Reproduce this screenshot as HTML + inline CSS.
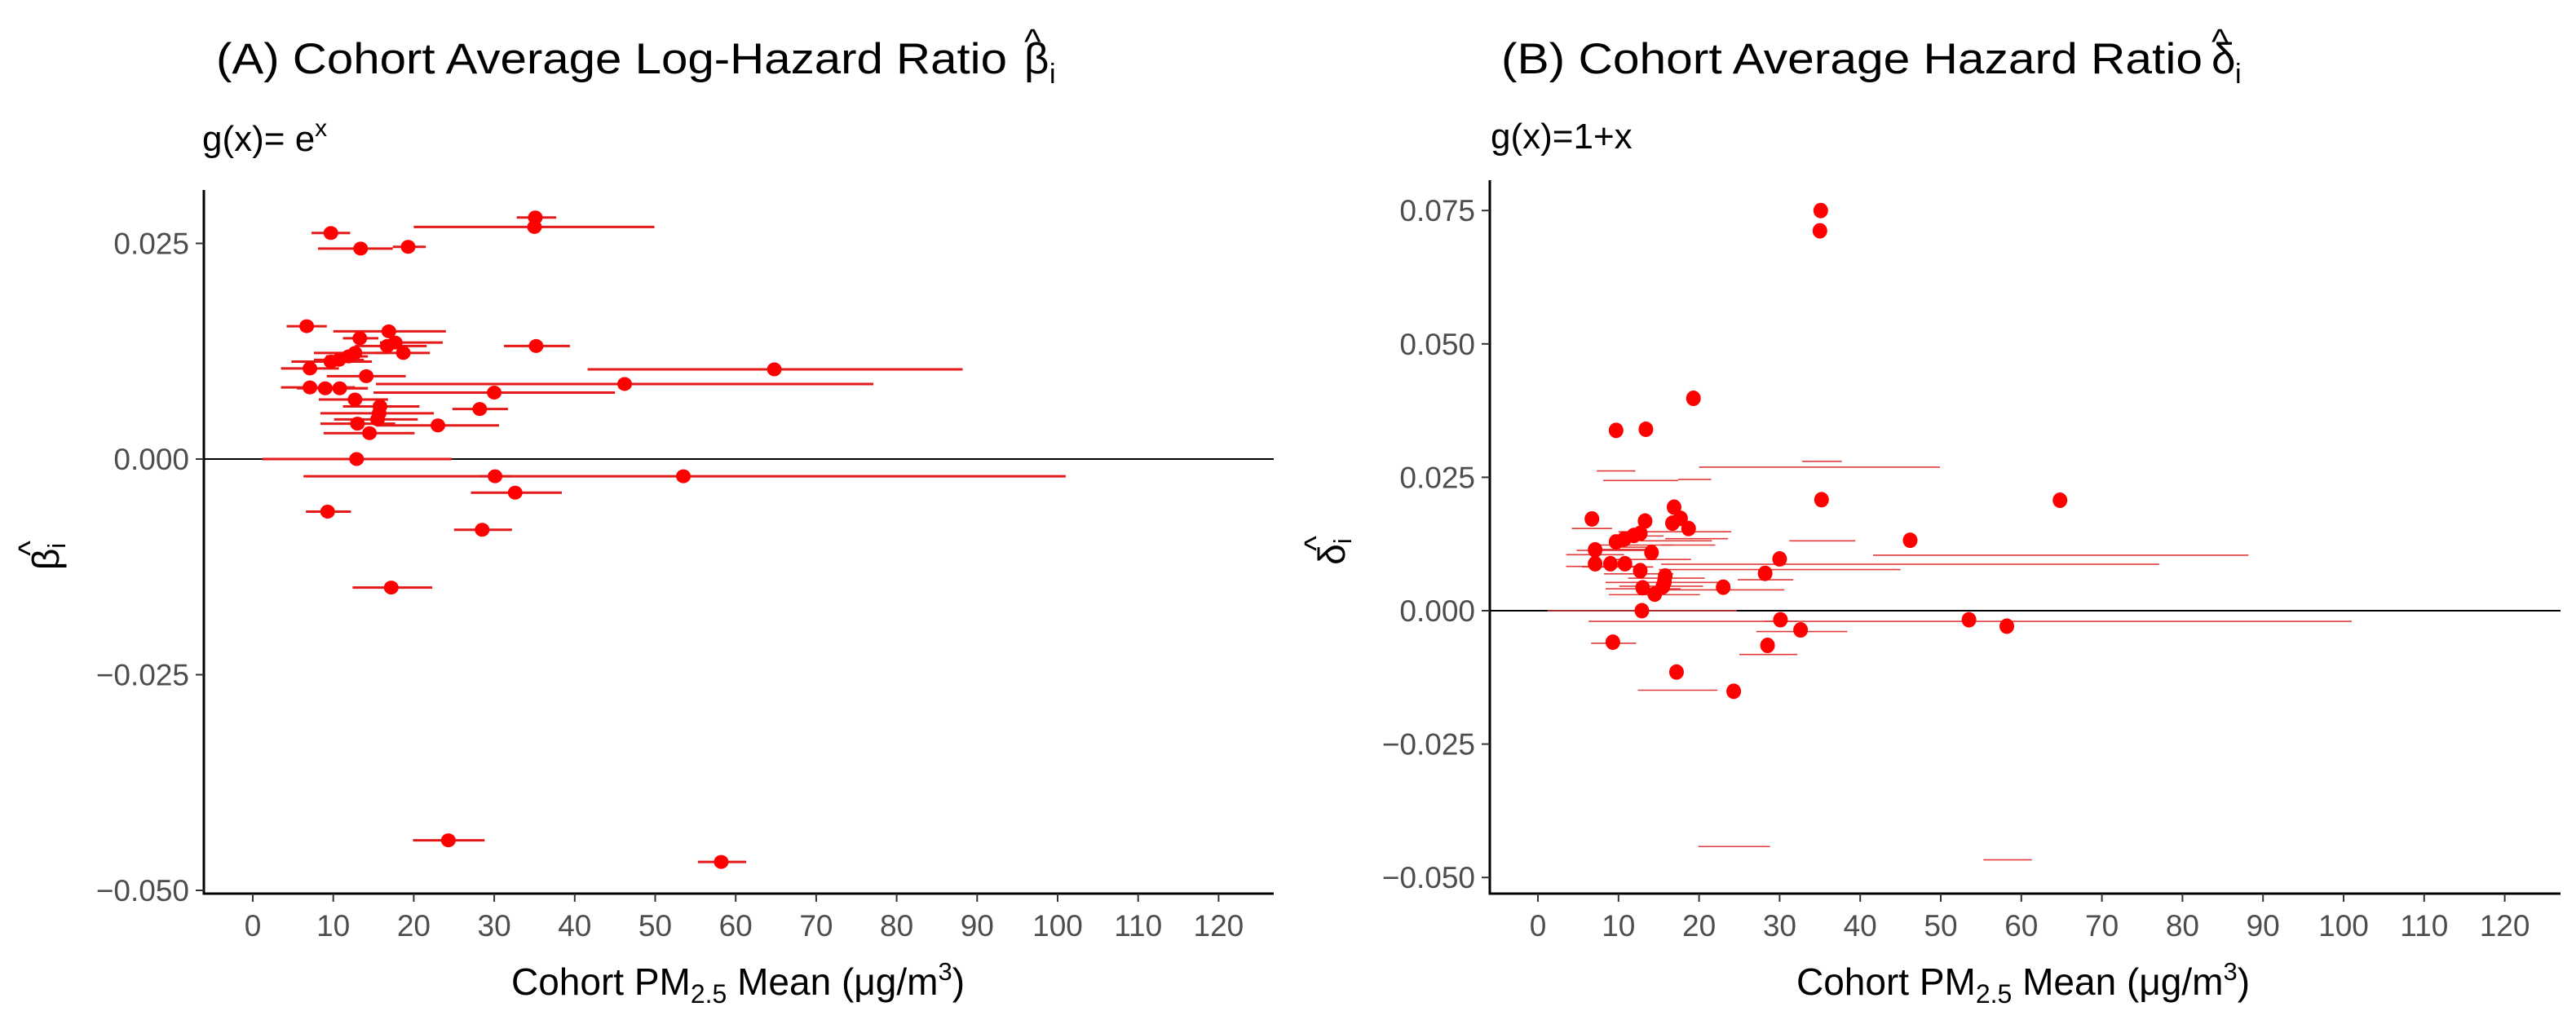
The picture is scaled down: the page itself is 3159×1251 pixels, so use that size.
<!DOCTYPE html>
<html><head><meta charset="utf-8">
<style>
html,body{margin:0;padding:0;background:#fff;}
svg{display:block;font-family:"Liberation Sans",Arial,sans-serif;}
</style></head>
<body>
<svg id="chart" width="3159" height="1251" viewBox="0 0 3159 1251" xmlns="http://www.w3.org/2000/svg">
<rect width="3159" height="1251" fill="#fff"/>
<g>
<text x="265" y="90" font-size="53" textLength="970" lengthAdjust="spacingAndGlyphs" fill="#000">(A) Cohort Average Log-Hazard Ratio</text>
<text x="1256" y="90" font-size="53" fill="#000">β</text>
<text x="1256" y="66" font-size="44" fill="#000">^</text>
<text x="1287" y="102" font-size="34" fill="#000">i</text>
</g>
<text x="248" y="185" font-size="44" fill="#000">g(x)= e<tspan dy="-18" font-size="30">x</tspan></text>
<g>
<text x="1841" y="90" font-size="53" textLength="860" lengthAdjust="spacingAndGlyphs" fill="#000">(B) Cohort Average Hazard Ratio</text>
</g>
<text x="1828" y="182" font-size="44" fill="#000">g(x)=1+x</text>
<g id="plots"></g>
</svg>
<script>
const cohortMean = [9.7,13.4,19.3,35.1,35.0,6.7,16.9,13.3,17.7,16.7,35.2,18.7,12.7,11.9,10.7,9.7,7.1,64.8,14.1,46.2,7.1,9.0,10.8,30.0,12.7,28.2,15.8,15.7,15.5,13.0,23.0,14.5,12.9,30.1,53.5,32.6,9.3,28.5,17.2,24.3,58.2];
const ciLow = [7.3,8.1,17.4,32.8,20.0,4.2,10.0,11.2,15.8,12.7,31.2,15.3,7.6,9.1,7.6,4.8,3.5,41.6,9.2,15.3,3.5,5.5,8.1,15.0,8.2,24.8,11.2,8.4,10.1,8.4,15.3,8.8,1.2,28.1,6.3,27.1,6.6,25.0,12.4,19.9,55.3];
const ciHigh = [12.1,17.4,21.5,37.7,49.9,9.2,24.0,15.6,23.6,21.6,39.4,22.0,16.8,14.3,13.8,14.8,10.7,88.2,19.0,77.1,12.7,14.3,14.3,45.0,16.8,31.7,20.7,22.5,20.5,17.7,30.6,20.1,24.7,32.2,101.0,38.4,12.2,32.2,22.3,28.8,61.3];
const betaHat = [0.0262,0.0244,0.0246,0.0280,0.0269,0.0154,0.0148,0.0140,0.0135,0.0131,0.0131,0.0123,0.0123,0.0119,0.0115,0.0113,0.0105,0.0104,0.0096,0.0087,0.0083,0.0082,0.0082,0.0077,0.0069,0.0058,0.0061,0.0053,0.0046,0.0041,0.0039,0.0030,0.0000,-0.0020,-0.0020,-0.0039,-0.0061,-0.0082,-0.0149,-0.0442,-0.0467];
const deltaHat = [0.0338,0.0340,0.0398,0.0750,0.0712,0.0172,0.0194,0.0168,0.0173,0.0164,0.0208,0.0154,0.0145,0.0141,0.0134,0.0129,0.0114,0.0207,0.0109,0.0132,0.0088,0.0088,0.0088,0.0097,0.0075,0.0070,0.0065,0.0054,0.0045,0.0043,0.0044,0.0031,0.0000,-0.0017,-0.0017,-0.0036,-0.0059,-0.0065,-0.0115,-0.0151,-0.0029];
const xTicks = [0,10,20,30,40,50,60,70,80,90,100,110,120];
const yTicksA = [0.025,0.000,-0.025,-0.050];
const yTickLabelsA = ["0.025","0.000","\u22120.025","\u22120.050"];
const yTicksB = [0.075,0.050,0.025,0.000,-0.025,-0.050];
const yTickLabelsB = ["0.075","0.050","0.025","0.000","\u22120.025","\u22120.050"];

const NS="http://www.w3.org/2000/svg";
const root=document.getElementById('plots');
function mk(tag,attrs,parent){const e=document.createElementNS(NS,tag);for(const k in attrs)e.setAttribute(k,attrs[k]);(parent||root).appendChild(e);return e;}

function panel(cfg){
  const g=mk('g',{});
  
  
  const sx=v=>cfg.x0+(v/10)*cfg.px10;
  const sy=v=>cfg.yZero-(v/0.025)*cfg.py25;
  const zl=mk('line',{x1:cfg.axisX,x2:cfg.right,y1:sy(0),y2:sy(0),stroke:'#000','stroke-width':2},g);
  
  
  for(let i=0;i<cohortMean.length;i++){
    const b=mk('line',{x1:sx(ciLow[i]),x2:sx(ciHigh[i]),y1:sy(betaHat[i]),y2:sy(betaHat[i]),stroke:cfg.barColor,'stroke-width':cfg.barW},g);
    
    
  }
  for(let i=0;i<cohortMean.length;i++){
    const c=mk('ellipse',{cx:sx(cohortMean[i]),cy:sy(cfg.vals[i]),rx:9,ry:cfg.ry,fill:'#ff0000'},g);
    
    
  }
  const ya=mk('line',{x1:cfg.axisX,x2:cfg.axisX,y1:cfg.top,y2:cfg.bottom+1.5,stroke:'#000','stroke-width':3},g);
  
  
  const xa=mk('line',{x1:cfg.axisX-1.5,x2:cfg.right,y1:cfg.bottom,y2:cfg.bottom,stroke:'#000','stroke-width':3},g);
  
  
  xTicks.forEach(t=>{
    mk('line',{x1:sx(t),x2:sx(t),y1:cfg.bottom,y2:cfg.bottom+10,stroke:'#333','stroke-width':2},g);
    const tx=mk('text',{x:sx(t),y:cfg.bottom+52,'font-size':37,'text-anchor':'middle',fill:'#4d4d4d'},g);
    tx.textContent=t;
    
    
  });
  cfg.yTicks.forEach((t,k)=>{
    mk('line',{x1:cfg.axisX-10,x2:cfg.axisX,y1:sy(t),y2:sy(t),stroke:'#333','stroke-width':2},g);
    const ty=mk('text',{x:cfg.axisX-18,y:sy(t)+13,'font-size':37,'text-anchor':'end',fill:'#4d4d4d'},g);
    ty.textContent=cfg.yLabels[k];
    
    
  });
  const xt=mk('text',{x:cfg.x0+595,y:1220,'font-size':46,'text-anchor':'middle',fill:'#000'},g);
  xt.innerHTML='Cohort PM<tspan dy="10" font-size="32">2.5</tspan><tspan dy="-10"> Mean (μg/m</tspan><tspan dy="-18" font-size="31">3</tspan><tspan dy="18">)</tspan>';
  
  
  const yt=mk('text',{transform:`translate(${cfg.axisX-178},${(cfg.top+cfg.bottom)/2+18}) rotate(-90)`,'font-size':46,'text-anchor':'middle',fill:'#000'},g);
  yt.innerHTML=cfg.sym+'<tspan dy="8" font-size="31">i</tspan>';
  
  
  const hat=mk('text',{transform:`translate(${cfg.axisX-200},${(cfg.top+cfg.bottom)/2+8}) rotate(-90)`,'font-size':40,'text-anchor':'middle',fill:'#000'},g);
  hat.textContent='^';
  
  
}

panel({name:'panel-a-plot',x0:310,px10:98.7,yZero:563,py25:264.5,axisX:250,right:1562,top:233,bottom:1096,
  vals:betaHat,yTicks:yTicksA,yLabels:yTickLabelsA,barColor:'#e41a1a',barW:3,ry:8.5,sym:'β'});
panel({name:'panel-b-plot',x0:1886,px10:98.8,yZero:749,py25:163.6,axisX:1827,right:3140,top:221,bottom:1096,
  vals:deltaHat,yTicks:yTicksB,yLabels:yTickLabelsB,barColor:'#e23a3a',barW:1.6,ry:9.5,sym:'δ'});

const svg=document.getElementById('chart');
const d1=mk('text',{x:2712,y:90,'font-size':53,fill:'#000'},svg);
d1.textContent='δ';


const d2=mk('text',{x:2712,y:66,'font-size':44,fill:'#000'},svg);
d2.textContent='^';


const d3=mk('text',{x:2741,y:102,'font-size':34,fill:'#000'},svg);
d3.textContent='i';


</script>
</body></html>
